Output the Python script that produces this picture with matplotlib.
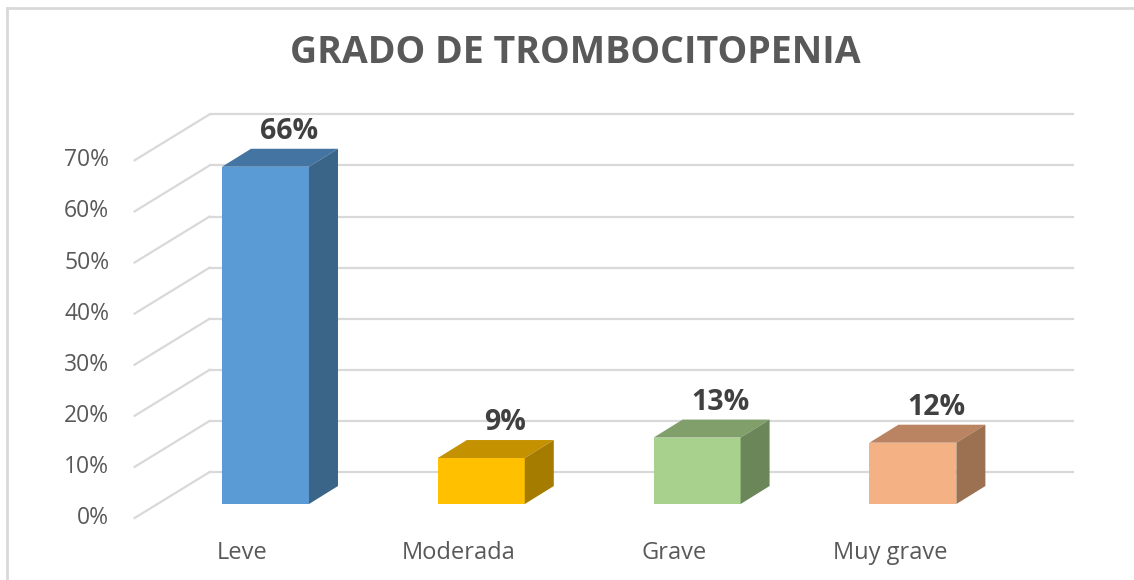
import matplotlib.pyplot as plt
from matplotlib.patches import Polygon

categories = ["Leve", "Moderada", "Grave", "Muy grave"]
values = [66, 9, 13, 12]
yticks = [0, 10, 20, 30, 40, 50, 60, 70]
front_colors = ["#5B9BD5", "#FFC000", "#A9D18E", "#F4B183"]
top_colors = ["#4374A2", "#C49100", "#809F6B", "#BA8463"]
side_colors = ["#3A6589", "#A57B00", "#6B8759", "#9C7152"]

plt.rcParams["font.family"] = ["Open Sans", "DejaVu Sans"]

fig = plt.figure(figsize=(11.34, 5.80), dpi=100)
ax = fig.add_axes([0, 0, 1, 1])
ax.set_xlim(-1.2303, 4.0246)
ax.set_ylim(-14.87, 98.63)
ax.axis("off")

# 3d-ish offsets (data units)
bw = 0.403
ddx, ddy = 0.1344, 3.52      # bar depth
fdx, fdy = -0.1066, -2.74    # floor front edge relative to bar plane
bdx, bdy = 0.241, 6.26       # back wall relative to bar plane
grid_c = "#D9D9D9"
x0, x1 = -0.5, 3.5

for v in yticks:
    ax.plot([x0 + fdx, x0 + bdx], [v + fdy, v + bdy], color=grid_c, lw=1.6, zorder=1)
    ax.plot([x0 + bdx, x1 + bdx], [v + bdy, v + bdy], color=grid_c, lw=1.6, zorder=1)
    ax.text(x0 + fdx - 0.118, v + fdy, f"{v}%", ha="right", va="center",
            fontsize=16.5, color="#595959")

xs = list(range(len(categories)))
ax.bar(xs, values, width=bw, color=front_colors, edgecolor="none", zorder=3)
for i, v in enumerate(values):
    l, r = i - bw / 2, i + bw / 2
    ax.add_patch(Polygon([(l, v), (r, v), (r + ddx, v + ddy), (l + ddx, v + ddy)],
                         closed=True, color=top_colors[i], lw=0, zorder=3))
    ax.add_patch(Polygon([(r, 0), (r, v), (r + ddx, v + ddy), (r + ddx, ddy)],
                         closed=True, color=side_colors[i], lw=0, zorder=3))
    ax.text(i + 0.11, v + ddy + 3.4, f"{v}%", ha="center", va="center",
            fontsize=20.5, fontweight="bold", color="#404040", zorder=4)
    ax.text(i + fdx, -9.5, categories[i], ha="center", va="center",
            fontsize=17, color="#595959")

fig.text(575 / 1134, 1 - 53 / 580, "GRADO DE TROMBOCITOPENIA", ha="center", va="center",
         fontsize=27, fontweight="bold", color="#595959")

# chart border (left and top edges visible)
fig.add_artist(plt.Line2D([7 / 1134, 7 / 1134], [0, 1 - 8 / 580], color=grid_c, lw=2))
fig.add_artist(plt.Line2D([7 / 1134, 1], [1 - 8 / 580, 1 - 8 / 580], color=grid_c, lw=2))

fig.savefig("out.png", dpi=100)
